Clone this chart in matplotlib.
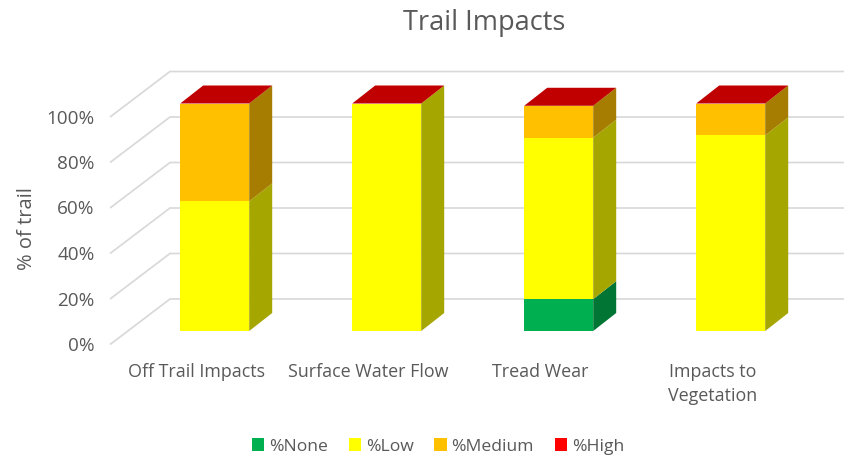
import matplotlib
matplotlib.use("Agg")
import matplotlib.pyplot as plt
import numpy as np
from matplotlib.patches import Polygon, Patch

categories = ["Off Trail Impacts", "Surface Water Flow", "Tread Wear", "Impacts to\nVegetation"]
series_names = ["%None", "%Low", "%Medium", "%High"]
pct_none = [0, 0, 14, 0]
pct_low = [57, 100, 71, 86]
pct_medium = [43, 0, 14, 14]
pct_high = [0, 0, 0, 0]
y_ticks = [0, 20, 40, 60, 80, 100]

front_colors = ["#00B050", "#FFFF00", "#FFC000", "#FF0000"]
side_colors = ["#007534", "#A6A600", "#A67D00", "#A60000"]
top_color = "#C00000"
text_color = "#595959"
grid_color = "#D9D9D9"

W, H = 845, 458
plt.rcParams["font.family"] = ["Open Sans", "DejaVu Sans"]
fig = plt.figure(figsize=(W / 100, H / 100), dpi=100)

# Axes = front plane of the chart box
left_px, bottom_px, width_px, height_px = 110.7, H - 344, 688, 227.5
ax = fig.add_axes([left_px / W, bottom_px / H, width_px / W, height_px / H])
ax.set_xlim(-0.5, 3.5)
ax.set_ylim(0, 100)
ux = width_px / 4      # pixels per category
uy = height_px / 100   # pixels per percent

# Depth offsets, converted to data units
wall_dx, wall_dy = 59.3 / ux, 45 / uy
plane_dx, plane_dy = 18 / ux, 13 / uy
depth_dx, depth_dy = 23 / ux, 18 / uy
bar_w = 69 / ux

for v in y_ticks:
    ax.plot([-0.5, -0.5 + wall_dx, 3.5 + wall_dx], [v, v + wall_dy, v + wall_dy],
            color=grid_color, lw=1.25, clip_on=False, zorder=1, solid_joinstyle="miter")

series = [pct_none, pct_low, pct_medium, pct_high]
x = np.arange(len(categories)) + plane_dx
bottom = np.zeros(len(categories))
for vals, fc, sc in zip(series, front_colors, side_colors):
    vals = np.array(vals, dtype=float)
    ax.bar(x, vals, bar_w, bottom=bottom + plane_dy, color=fc, lw=0, zorder=3, clip_on=False)
    for xi, b, v in zip(x, bottom, vals):
        if v <= 0:
            continue
        xr = xi + bar_w / 2
        b0, t0 = b + plane_dy, b + v + plane_dy
        ax.add_patch(Polygon([(xr, b0), (xr, t0), (xr + depth_dx, t0 + depth_dy), (xr + depth_dx, b0 + depth_dy)],
                             closed=True, fc=sc, lw=0, zorder=3, clip_on=False))
    bottom = bottom + vals

for xi, t in zip(x, bottom):
    xl, xr = xi - bar_w / 2, xi + bar_w / 2
    t0 = t + plane_dy
    ax.add_patch(Polygon([(xl, t0), (xr, t0), (xr + depth_dx, t0 + depth_dy), (xl + depth_dx, t0 + depth_dy)],
                         closed=True, fc=top_color, lw=0, zorder=3, clip_on=False))

for s in ax.spines.values():
    s.set_visible(False)
ax.set_yticks(y_ticks)
ax.set_yticklabels([f"{v}%" for v in y_ticks])
ax.set_xticks(np.arange(len(categories)))
ax.set_xticklabels(categories, linespacing=1.38, va="top")
ax.tick_params(axis="y", length=0, pad=11.5, labelsize=13.6, labelcolor=text_color)
ax.tick_params(axis="x", length=0, pad=14, labelsize=12.9, labelcolor=text_color)

fig.text(484 / W, 1 - 23 / H, "Trail Impacts", ha="center", va="center", fontsize=19.5, color=text_color)
fig.text(26.5 / W, 1 - 229 / H, "% of trail", ha="center", va="center", rotation=90, fontsize=14.5, color=text_color)

handles = [Patch(fc=c, lw=0) for c in front_colors]
fig.legend(handles, series_names, loc="center", bbox_to_anchor=(438 / W, 1 - 446.5 / H), ncol=4, frameon=False,
           fontsize=12.6, labelcolor=text_color, handlelength=0.69, handleheight=0.69,
           handletextpad=0.29, columnspacing=1.2, borderpad=0)

fig.savefig("out.png", dpi=100)
